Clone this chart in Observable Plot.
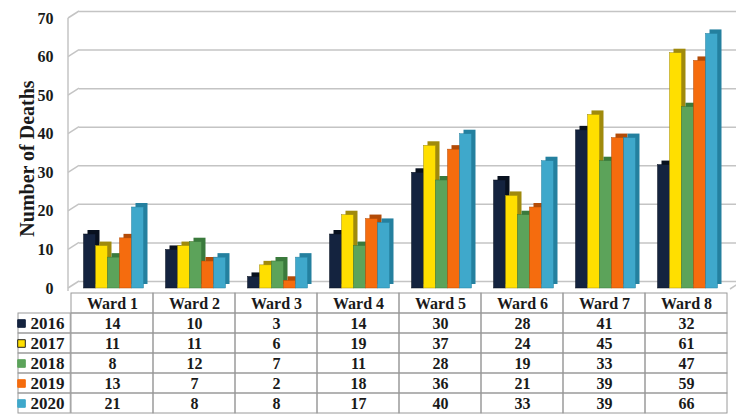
<!DOCTYPE html>
<html><head><meta charset="utf-8">
<script src="https://cdn.jsdelivr.net/npm/d3@7"></script>
<script src="https://cdn.jsdelivr.net/npm/@observablehq/plot@0.6"></script>
<style>
html,body{margin:0;padding:0;background:#fff;overflow:hidden;}
#wrap{position:relative;width:736px;height:415px;}
#chart{position:absolute;left:0;top:0;width:736px;height:289px;}
#chart svg{position:absolute;left:0;top:0;}
#table{position:absolute;left:0;top:289px;width:736px;height:126px;}
svg{display:block;}
</style></head><body><div id="wrap"><div id="table"></div><div id="chart"></div></div>
<script>
// ---- data ----
const wards = ["Ward 1","Ward 2","Ward 3","Ward 4","Ward 5","Ward 6","Ward 7","Ward 8"];
const years = ["2016","2017","2018","2019","2020"];
const deaths2016 = [14,10,3,14,30,28,41,32];
const deaths2017 = [11,11,6,19,37,24,45,61];
const deaths2018 = [8,12,7,11,28,19,33,47];
const deaths2019 = [13,7,2,18,36,21,39,59];
const deaths2020 = [21,8,8,17,40,33,39,66];
const yTicks = [0,10,20,30,40,50,60,70];
const yTitle = "Number of Deaths";

// ---- styling ----
const frontColors = {"2016":"#14233f","2017":"#ffdf00","2018":"#5ca35a","2019":"#f56c0e","2020":"#3fa8cb"};
const sideColors  = {"2016":"#08111f","2017":"#a08a0c","2018":"#3a7a3c","2019":"#b34b07","2020":"#24809f"};
const series = [deaths2016,deaths2017,deaths2018,deaths2019,deaths2020];
const data = years.flatMap((yr,i)=>wards.map((w,j)=>({ward:w, year:yr, value:series[i][j]})));

const W=736, H=289, ML=68, MR=6, MT=18, MB=1;
const depthX=11, depthY=7, barDepth=4;
const baseStyle = {background:"transparent", overflow:"visible", fontFamily:"'Liberation Serif', 'Times New Roman', serif", fontSize:"16px", fontWeight:"bold", color:"#1a1a1a"};

// background wall: gridline slants, axis line
function wall(index, scales, values, dimensions) {
  const g = d3.create("svg:g").attr("stroke","#c4c4c4").attr("stroke-width",1.5).attr("fill","none");
  const x0 = dimensions.marginLeft;
  const x1 = dimensions.width - dimensions.marginRight;
  for (const t of yTicks) {
    const y = scales.y(t);
    g.append("line").attr("x1",x0).attr("y1",y).attr("x2",x0+depthX).attr("y2",y-depthY);
  }
  const y0 = scales.y(0);
  g.append("line").attr("x1",x1).attr("y1",y0+1).attr("x2",x1+depthX).attr("y2",y0+1-depthY);
  g.append("line").attr("x1",x0).attr("y1",scales.y(yTicks[yTicks.length-1])).attr("x2",x0).attr("y2",dimensions.height+2);
  return g.node();
}

const bg = Plot.plot({
  width:W, height:H, marginLeft:ML, marginRight:MR, marginTop:MT, marginBottom:MB,
  style: baseStyle,
  x:{domain:wards, padding:0, axis:null},
  y:{domain:[0,70], ticks:yTicks, tickSize:0, tickPadding:15, label:null},
  marks:[
    Plot.ruleY(yTicks, {dx:depthX, dy:-depthY, stroke:"#c4c4c4", strokeWidth:1.5}),
    wall,
    Plot.text([yTitle], {text:d=>d, frameAnchor:"left", textAnchor:"middle", rotate:-90, dx:-41, dy:5, fontSize:20, fontWeight:"bold"})
  ]
});
document.getElementById("chart").appendChild(bg);

const fg = Plot.plot({
  width:W, height:H, marginLeft:ML, marginRight:MR, marginTop:MT, marginBottom:MB,
  style: baseStyle,
  fx:{domain:wards, paddingInner:0.25, paddingOuter:0.125, axis:null, label:null},
  x:{domain:years, padding:0, axis:null},
  y:{domain:[0,70], axis:null},
  color:{type:"identity"},
  marks:[
    Plot.barY(data, {fx:"ward", x:"year", y:"value", fill:d=>sideColors[d.year], dx:1.5+barDepth, dy:-barDepth}),
    Plot.barY(data, {fx:"ward", x:"year", y:"value", fill:d=>frontColors[d.year], dx:1.5, stroke:d=>sideColors[d.year], strokeWidth:0.5})
  ]
});
document.getElementById("chart").appendChild(fg);

// ---- data table ----
const rows = ["Ward", ...years];
const step = (W-ML-MR)/wards.length;
const labelLeft = 15;
const cells = rows.flatMap(r=>wards.map(w=>({ward:w,row:r})));
const tbl = Plot.plot({
  width:W, height:126, marginLeft:ML, marginRight:MR, marginTop:1, marginBottom:0,
  style: baseStyle,
  x:{domain:wards, padding:0, axis:null},
  y:{domain:rows, padding:0, axis:null},
  color:{type:"identity"},
  marks:[
    Plot.cell(cells, {x:"ward", y:"row", fill:"none", stroke:"#9a9a9a", strokeWidth:1}),
    Plot.cell(years, {x:()=>wards[0], y:d=>d, fill:"none", stroke:"#9a9a9a", strokeWidth:1, insetLeft:-(ML-labelLeft), insetRight:step}),
    Plot.text(wards, {x:d=>d, y:()=>"Ward", text:d=>d}),
    Plot.text(data, {x:"ward", y:"year", text:d=>String(d.value)}),
    Plot.text(years, {y:d=>d, text:d=>d, frameAnchor:"left", dx:-4, textAnchor:"end", fontSize:17}),
    Plot.dot(years, {y:d=>d, frameAnchor:"left", dx:-47, symbol:"square", r:4.3, fill:d=>frontColors[d], stroke:d=>d==="2017"?"#222":frontColors[d], strokeWidth:1})
  ]
});
document.getElementById("table").appendChild(tbl);
</script>
</body></html>
